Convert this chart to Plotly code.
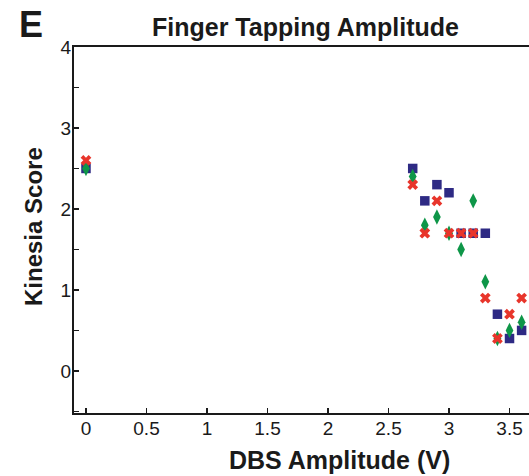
import plotly.graph_objects as go

# Data
x_vals = [0, 2.7, 2.8, 2.9, 3.0, 3.1, 3.2, 3.3, 3.4, 3.5, 3.6]
square_y = [2.5, 2.5, 2.1, 2.3, 2.2, 1.7, 1.7, 1.7, 0.7, 0.4, 0.5]
diamond_y = [2.5, 2.4, 1.8, 1.9, 1.7, 1.5, 2.1, 1.1, 0.4, 0.5, 0.6]
cross_y = [2.6, 2.3, 1.7, 2.1, 1.7, 1.7, 1.7, 0.9, 0.4, 0.7, 0.9]

x_ticks = [0, 0.5, 1, 1.5, 2, 2.5, 3, 3.5]
x_tick_labels = ["0", "0.5", "1", "1.5", "2", "2.5", "3", "3.5"]
y_ticks = [0, 1, 2, 3, 4]
y_tick_labels = ["0", "1", "2", "3", "4"]

NAVY = "#2E2A84"
GREEN = "#0E9648"
RED = "#E8352B"
INK = "#1a1a1a"
FONT = "Liberation Sans, Arial, sans-serif"

W, H = 529, 476
ML, MR, MT, MB = 74, 0, 47, 63

fig = go.Figure()
fig.add_trace(go.Scatter(x=x_vals, y=square_y, mode="markers",
                         marker=dict(symbol="square", size=9.5, color=NAVY, line=dict(width=0)),
                         showlegend=False))
fig.add_trace(go.Scatter(x=x_vals, y=diamond_y, mode="markers",
                         marker=dict(symbol="diamond-tall", size=11, color=GREEN, line=dict(width=0)),
                         showlegend=False))
fig.add_trace(go.Scatter(x=x_vals, y=cross_y, mode="markers",
                         marker=dict(symbol="x", size=9.5, color=RED, line=dict(width=0)),
                         showlegend=False))


def px_annot(text, px, py, size, angle=0):
    return dict(text=text, xref="paper", yref="paper",
                x=(px - ML) / (W - ML - MR), y=(H - py - MB) / (H - MT - MB),
                showarrow=False, textangle=angle,
                font=dict(size=size, family=FONT, color=INK),
                xanchor="center", yanchor="middle")


fig.update_layout(
    width=W, height=H,
    margin=dict(l=ML, r=MR, t=MT, b=MB, autoexpand=False),
    paper_bgcolor="white", plot_bgcolor="white",
    font=dict(family=FONT, color=INK),
    hovermode=False,
    xaxis=dict(range=[-0.099, 3.661], showline=True, linewidth=2, linecolor=INK,
               mirror=True, ticks="inside", ticklen=5, tickwidth=1.5, tickcolor=INK,
               tickvals=x_ticks, ticktext=x_tick_labels, showgrid=False, zeroline=False,
               automargin=False,
               tickfont=dict(size=19, family=FONT, color=INK), ticklabelstandoff=-3),
    yaxis=dict(range=[-0.52, 4], showline=True, linewidth=2, linecolor=INK,
               ticks="inside", ticklen=5, tickwidth=1.5, tickcolor=INK,
               tickvals=y_ticks, ticktext=y_tick_labels, showgrid=False, zeroline=False,
               automargin=False,
               tickfont=dict(size=19, family=FONT, color=INK), ticklabelstandoff=-3,
               minor=dict(ticks="inside", dtick=0.5, tick0=0, ticklen=5, tickwidth=1.5,
                          tickcolor=INK, showgrid=False)),
    annotations=[
        px_annot("<b>Finger Tapping Amplitude</b>", 305, 27, 25),
        px_annot("<b>E</b>", 31, 25, 36),
        px_annot("<b>DBS Amplitude (V)</b>", 339, 460, 25),
        px_annot("<b>Kinesia Score</b>", 33, 227, 24, angle=-90),
    ],
)

fig.write_html("out.html",
               config={"displayModeBar": False, "staticPlot": True},
               post_script="document.body.style.margin='0';document.body.style.padding='0';document.body.style.overflow='hidden';")
